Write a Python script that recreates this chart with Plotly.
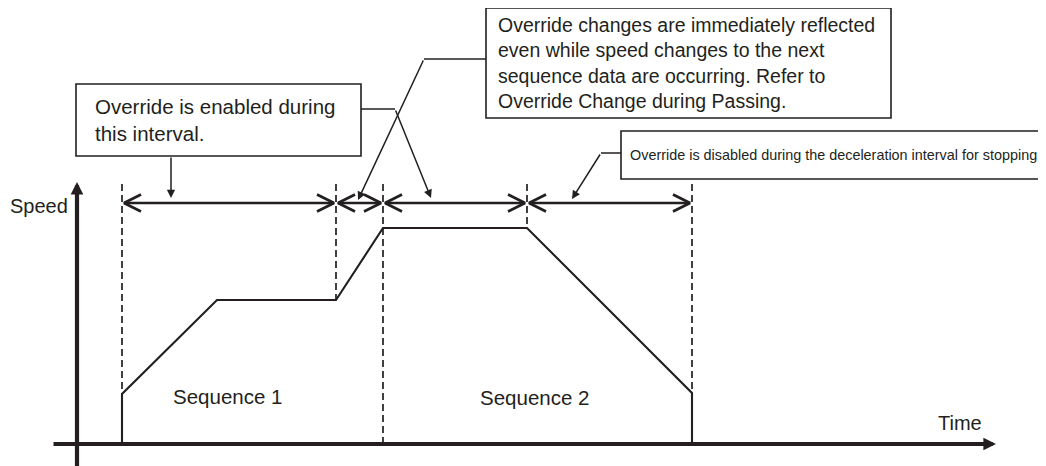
import plotly.graph_objects as go

# page is rendered with an 8px body margin, so the figure is shifted by PAGE_OFF
PAGE_W, PAGE_H = 1046, 466
PAGE_OFF = 8
W, H = PAGE_W - PAGE_OFF, PAGE_H - PAGE_OFF
INK = "#231f20"
FONT = "Liberation Sans, Arial, Helvetica, sans-serif"

# ---------------- data (time / speed units) ----------------
profile_time = [45, 45, 140, 259, 306, 450, 615, 615]
profile_speed = [0, 50, 144, 144, 216, 216, 51, 0]

boundary_time = [45, 259, 306, 450, 615]
boundary_low = [50, 144, 0, 216, 51]      # where each dashed guide stops
guide_top = 260
interval_level = 241

sequence_labels = ["Sequence 1", "Sequence 2"]
sequence_time = [150, 457]
sequence_speed = [48, 47]

axis_time_span = [-25, 922]
axis_speed_span = [-22, 265]

# ---------------- layout helpers (page pixel -> data) ----------------
X0, Y0 = 77, 444


def T(px):
    return px - X0


def S(py):
    return Y0 - py


fig = go.Figure()

# dashed guides
gx, gy = [], []
for t, lo in zip(boundary_time, boundary_low):
    gx += [t, t, None]
    gy += [guide_top, lo, None]
fig.add_trace(go.Scatter(x=gx, y=gy, mode="lines",
                         line=dict(color=INK, width=1.7, dash="7px,4px"),
                         hoverinfo="skip", showlegend=False))

# speed profile
fig.add_trace(go.Scatter(x=profile_time, y=profile_speed, mode="lines",
                         line=dict(color=INK, width=2.1),
                         hoverinfo="skip", showlegend=False))

# double-headed interval arrows
ax_, ay_ = [], []
GAP, L, HW = 2, 17, 8.5
for a, b in zip(boundary_time[:-1], boundary_time[1:]):
    a2, b2 = a + GAP, b - GAP
    h = interval_level
    ax_ += [a2, b2, None, a2 + L, a2, a2 + L, None, b2 - L, b2, b2 - L, None]
    ay_ += [h, h, None, h + HW, h, h - HW, None, h + HW, h, h - HW, None]
fig.add_trace(go.Scatter(x=ax_, y=ay_, mode="lines",
                         line=dict(color=INK, width=2.7),
                         hoverinfo="skip", showlegend=False))

# axes with arrowheads
fig.add_annotation(x=0, y=axis_speed_span[1] - 3, ax=0, ay=axis_speed_span[0] - 5,
                   xref="x", yref="y", axref="x", ayref="y", text="",
                   showarrow=True, arrowhead=2, arrowwidth=4.2, arrowsize=0.6,
                   arrowcolor=INK)
fig.add_annotation(x=axis_time_span[1] - 3, y=0, ax=axis_time_span[0], ay=0,
                   xref="x", yref="y", axref="x", ayref="y", text="",
                   showarrow=True, arrowhead=2, arrowwidth=4.2, arrowsize=0.6,
                   arrowcolor=INK)

# axis titles
fig.add_annotation(x=T(8), y=S(206), text="Speed", showarrow=False,
                   xanchor="left", yanchor="middle",
                   font=dict(family=FONT, size=20, color=INK))
fig.add_annotation(x=T(936), y=S(423), text="Time", showarrow=False,
                   xanchor="left", yanchor="middle",
                   font=dict(family=FONT, size=20, color=INK))

# sequence labels
for lab, t, s in zip(sequence_labels, sequence_time, sequence_speed):
    fig.add_annotation(x=t, y=s, text=lab, showarrow=False,
                       xanchor="center", yanchor="middle",
                       font=dict(family=FONT, size=20.5, color=INK))

# callout boxes (page pixels)
boxes = [
    ((76, 84, 361, 156), 93, "Override is enabled during<br>this interval.", 20.5),
    ((486, 8, 891, 118), 496,
     "Override changes are immediately reflected<br>even while speed changes to the next<br>"
     "sequence data are occurring. Refer to<br>Override Change during Passing.", 19.5),
    ((621, 131, 1041, 179), 628,
     "Override is disabled during the deceleration interval for stopping", 14.4),
]
for (x1, y1, x2, y2), tx, txt, size in boxes:
    fig.add_shape(type="rect", x0=T(x1), x1=T(x2), y0=S(y1), y1=S(y2),
                  line=dict(color=INK, width=1.6), fillcolor="white", layer="above")
    fig.add_annotation(x=T(tx), y=S((y1 + y2) / 2), text=txt, showarrow=False,
                       xanchor="left", yanchor="middle", align="left",
                       font=dict(family=FONT, size=size, color=INK))

# leader lines (page pixel polylines, last segment carries the arrow head)
leaders = [
    [(171, 156), (171, 198)],
    [(361, 109), (395, 109), (431, 198)],
    [(486, 59), (424, 59), (358, 200)],
    [(621, 153), (601, 153), (572, 199)],
]
for pts in leaders:
    if len(pts) > 2:
        fig.add_trace(go.Scatter(x=[T(p[0]) for p in pts[:-1]],
                                 y=[S(p[1]) for p in pts[:-1]], mode="lines",
                                 line=dict(color=INK, width=1.5),
                                 hoverinfo="skip", showlegend=False))
    (sx, sy), (ex, ey) = pts[-2], pts[-1]
    fig.add_annotation(x=T(ex), y=S(ey), ax=T(sx), ay=S(sy),
                       xref="x", yref="y", axref="x", ayref="y", text="",
                       showarrow=True, arrowhead=2, arrowwidth=1.5, arrowsize=1.1,
                       arrowcolor=INK)

fig.update_layout(
    width=W, height=H,
    margin=dict(l=0, r=0, t=0, b=0),
    paper_bgcolor="white", plot_bgcolor="white",
    xaxis=dict(range=[T(PAGE_OFF), T(PAGE_W)], visible=False, fixedrange=True),
    yaxis=dict(range=[S(PAGE_H), S(PAGE_OFF)], visible=False, fixedrange=True),
    showlegend=False,
)

fig.write_html("out.html")
